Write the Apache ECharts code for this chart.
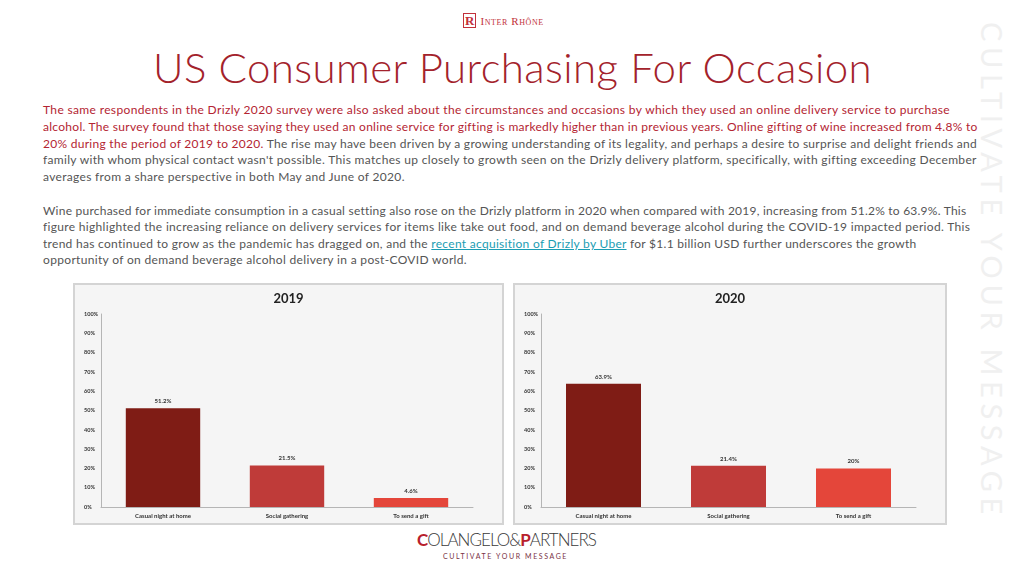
<!DOCTYPE html>
<html>
<head>
<meta charset="utf-8">
<script src="https://cdn.jsdelivr.net/npm/echarts@6/dist/echarts.min.js"></script>
<style>
  html, body { margin: 0; padding: 0; background: #fff; }
  body { width: 1024px; height: 576px; position: relative; overflow: hidden; font-family: Lato, "Open Sans", sans-serif; }
  .abs { position: absolute; white-space: nowrap; }
  .line { position: absolute; left: 43px; white-space: nowrap; font-size: 12px; line-height: 17px; color: #555; }
  .red { color: #b42432; }
  .link { color: #1b9db3; text-decoration: underline; }
  .box { position: absolute; top: 283px; height: 238px; background: #f5f5f5; border: 2px solid #d4d4d4; }
  #watermark { position: absolute; left: 978px; top: 22px; writing-mode: vertical-rl; font-size: 29px; font-weight: 400; color: #f0f0f0; white-space: nowrap; line-height: 29px; }
</style>
</head>
<body>

<!-- header logo -->
<div class="abs" style="left:463px; top:11px; font-family:'Liberation Serif',serif; color:#c2313b;">
  <span style="display:inline-block; border:1px solid #c2313b; font-size:13px; line-height:13px; padding:0 1px; font-weight:bold;">R</span>
  <span style="font-size:11px; font-variant:small-caps; letter-spacing:0.6px;">Inter Rhône</span>
</div>

<div id="watermark" data-target="498">CULTIVATE YOUR MESSAGE</div>

<div id="title" class="abs" data-target="719" style="left:153px; top:46px; font-size:42px; line-height:42px; font-weight:300; color:#a3222b;">US Consumer Purchasing For Occasion</div>

<div class="line red" style="top:101px" data-target="907">The same respondents in the Drizly 2020 survey were also asked about the circumstances and occasions by which they used an online delivery service to purchase</div>
<div class="line red" style="top:118px" data-target="934">alcohol. The survey found that those saying they used an online service for gifting is markedly higher than in previous years. Online gifting of wine increased from 4.8% to</div>
<div class="line" style="top:135px" data-target="934"><span class="red">20% during the period of 2019 to 2020.</span> The rise may have been driven by a growing understanding of its legality, and perhaps a desire to surprise and delight friends and</div>
<div class="line" style="top:151px" data-target="933">family with whom physical contact wasn't possible. This matches up closely to growth seen on the Drizly delivery platform, specifically, with gifting exceeding December</div>
<div class="line" style="top:168px" data-target="362">averages from a share perspective in both May and June of 2020.</div>

<div class="line" style="top:202px" data-target="923">Wine purchased for immediate consumption in a casual setting also rose on the Drizly platform in 2020 when compared with 2019, increasing from 51.2% to 63.9%. This</div>
<div class="line" style="top:218px" data-target="927">figure highlighted the increasing reliance on delivery services for items like take out food, and on demand beverage alcohol during the COVID-19 impacted period. This</div>
<div class="line" style="top:235px" data-target="874">trend has continued to grow as the pandemic has dragged on, and the <span class="link">recent acquisition of Drizly by Uber</span> for $1.1 billion USD further underscores the growth</div>
<div class="line" style="top:251px" data-target="424">opportunity of on demand beverage alcohol delivery in a post-COVID world.</div>

<div class="box" style="left:73px; width:427px;"><div id="chart2019" style="width:427px; height:238px;"></div></div>
<div class="box" style="left:513px; width:430px;"><div id="chart2020" style="width:430px; height:238px;"></div></div>

<!-- footer logo -->
<div id="footlogo" class="abs" data-target="179" style="left:417px; top:530px; font-size:17px; line-height:20px; font-weight:300; color:#3a3a3a;"><span style="color:#b8202c; font-weight:bold;">C</span>OLANGELO&amp;<span style="color:#b8202c; font-weight:bold;">P</span>ARTNERS</div>
<div id="footsub" class="abs" data-target="125" style="left:443px; top:552px; font-size:7px; line-height:9px; color:#7a3346;">CULTIVATE YOUR MESSAGE</div>

<script>
// chart data
var categories = ['Casual night at home', 'Social gathering', 'To send a gift'];
var values2019 = [51.2, 21.5, 4.6];
var values2020 = [63.9, 21.4, 20];
var yTicks = { min: 0, max: 100, interval: 10 };

var barColors = ['#7f1c15', '#bf3b39', '#e4463a'];

function makeOption(year, values){
    return {
        animation: false,
        title: {
            text: year,
            left: 'center',
            top: 2,
            textStyle: { fontFamily: 'Lato', fontSize: 13, fontWeight: 'bold', color: '#222' }
        },
        grid: { left: 26, right: 29, top: 29, bottom: 16 },
        xAxis: {
            type: 'category',
            data: categories,
            axisLine: { lineStyle: { color: '#b5b5b5', width: 1 } },
            axisTick: { show: false },
            axisLabel: { fontFamily: 'Lato', fontSize: 6, fontWeight: 'bold', color: '#333', margin: 6 }
        },
        yAxis: {
            type: 'value',
            min: yTicks.min,
            max: yTicks.max,
            interval: yTicks.interval,
            axisLine: { show: true, lineStyle: { color: '#b5b5b5', width: 1 } },
            axisTick: { show: false },
            splitLine: { show: false },
            axisLabel: { fontFamily: 'Lato', fontSize: 5.5, fontWeight: 'bold', color: '#333',
                         formatter: '{value}%', align: 'left', margin: 17 }
        },
        series: [{
            type: 'bar',
            barWidth: '60%',
            data: values.map(function(v, i){
                return { value: v, itemStyle: { color: barColors[i] } };
            }),
            label: {
                show: true,
                position: 'top',
                distance: 4,
                formatter: '{c}%',
                fontFamily: 'Lato', fontSize: 6, fontWeight: 'bold', color: '#333'
            }
        }]
    };
}

var c1 = echarts.init(document.getElementById('chart2019'));
c1.setOption(makeOption('2019', values2019));
var c2 = echarts.init(document.getElementById('chart2020'));
c2.setOption(makeOption('2020', values2020));

// stretch text lines to the widths seen on the slide
function fitAll(){
    var els = document.querySelectorAll('[data-target]');
    for (var i = 0; i < els.length; i++){
        var el = els[i];
        var target = parseFloat(el.getAttribute('data-target'));
        el.style.letterSpacing = '0px';
        var r = el.getBoundingClientRect();
        var w = (el.id == 'watermark') ? r.height : r.width;
        var n = el.textContent.length;
        el.style.letterSpacing = ((target - w) / n) + 'px';
    }
}
if (document.fonts && document.fonts.ready) {
    document.fonts.ready.then(fitAll);
} else {
    fitAll();
}
</script>
</body>
</html>
